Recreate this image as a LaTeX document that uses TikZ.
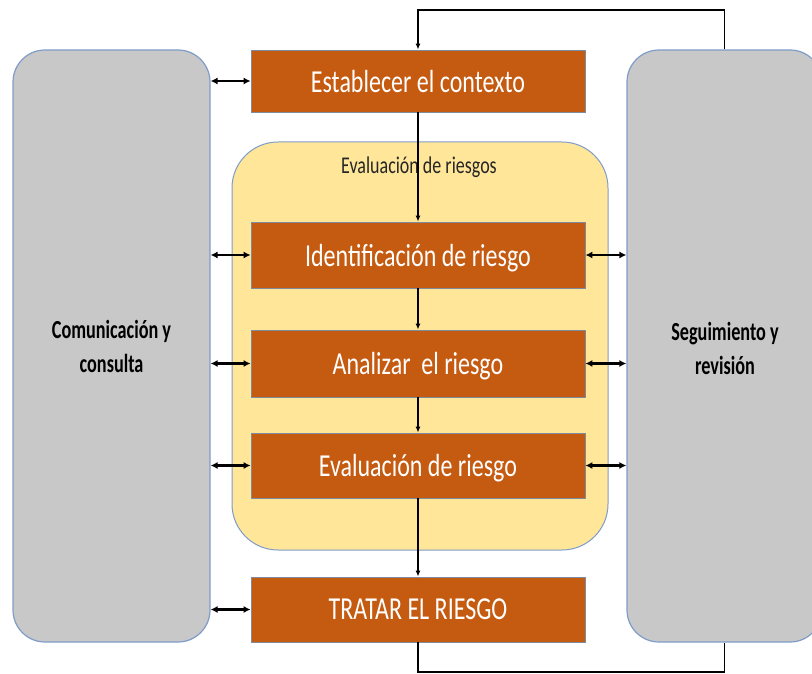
\documentclass[tikz,border=0pt]{standalone}
\usepackage{fontspec}
\setmainfont{Carlito}
\newfontfamily\boxfont{Carlito}[FakeStretch=0.75]
\newfontfamily\sidefont{Carlito}[FakeStretch=0.7]
\usetikzlibrary{arrows.meta}
\definecolor{orangebox}{HTML}{C55A11}
\definecolor{orangeedge}{HTML}{7F8CA0}
\definecolor{graybox}{HTML}{C8C8C8}
\definecolor{blueedge}{HTML}{7F9CC8}
\definecolor{yellowbox}{HTML}{FFE699}
\tikzset{
  stepbox/.style={draw=orangeedge, line width=0.8pt, fill=orangebox, minimum width=334pt, inner sep=0pt,
    text=white, text depth=0pt, font=\boxfont\fontsize{32}{38}\selectfont},
  sidebox/.style={draw=blueedge, line width=1.2pt, fill=graybox, rounded corners=32pt, inner sep=0pt,
    minimum width=197pt, minimum height=592pt},
  sidetext/.style={align=center, font=\sidefont\bfseries\fontsize{26}{34}\selectfont, text=black},
  flow/.style={line width=1.5pt, -{Latex[length=6pt,width=5pt]}},
  plain/.style={line width=1.5pt},
  dbl/.style={line width=2.2pt, {Latex[length=7pt,width=7pt]}-{Latex[length=7pt,width=7pt]}},
}
\begin{document}
\begin{tikzpicture}[x=1pt,y=-1pt]
\useasboundingbox (0,0) rectangle (812,674);
\clip (0,0) rectangle (812,674);
% side boxes
\node[sidebox] (lbox) at (111.5,346) {};
\node[sidebox, minimum width=195pt] (rbox) at (724.5,346) {};
\node[sidetext] (ltext) at (111.5,346) {Comunicación y\\consulta};
\node[sidetext] (rtext) at (725,348) {Seguimiento y\\revisión};
% risk assessment container
\node[draw=blueedge, line width=1pt, fill=yellowbox, rounded corners=46pt, minimum width=376pt, minimum height=408pt, inner sep=0pt] (ybox) at (420,346) {};
\node[font=\boxfont\fontsize{24}{28}\selectfont, text=black!85] (ylabel) at (419,167) {Evaluación de riesgos};
% steps
\node[stepbox, minimum height=62pt] (est) at (418,81) {Establecer el contexto};
\node[stepbox, minimum height=66pt] (idr) at (418,255) {Identificación de riesgo};
\node[stepbox, minimum height=67pt] (ana) at (418,363.5) {Analizar\, el riesgo};
\node[stepbox, minimum height=65pt] (eva) at (418,465.5) {Evaluación de riesgo};
\node[stepbox, minimum height=65pt] (tra) at (418,609.5) {TRATAR EL RIESGO};
% flow arrows
\draw[flow] (est.south) -- (idr.north);
\draw[flow] (idr.south) -- (ana.north);
\draw[flow] (ana.south) -- (eva.north);
\draw[flow] (eva.south) -- (tra.north);
% feedback loops
\coordinate (topc) at (418,10);
\coordinate (botc) at (418,672);
\draw[flow] (rbox.north) |- (topc) -- (est.north);
\draw[plain] (tra.south) -- (botc) -| (rbox.south);
% communication arrows
\draw[dbl] (lbox.east |- est.west) -- (est.west);
\draw[dbl] (lbox.east |- idr.west) -- (idr.west);
\draw[dbl] (lbox.east |- ana.west) -- (ana.west);
\draw[dbl] (lbox.east |- eva.west) -- (eva.west);
\draw[dbl] (lbox.east |- tra.west) -- (tra.west);
% monitoring arrows
\draw[dbl] (idr.east) -- (rbox.west |- idr.east);
\draw[dbl] (ana.east) -- (rbox.west |- ana.east);
\draw[dbl] (eva.east) -- (rbox.west |- eva.east);
\end{tikzpicture}
\end{document}
